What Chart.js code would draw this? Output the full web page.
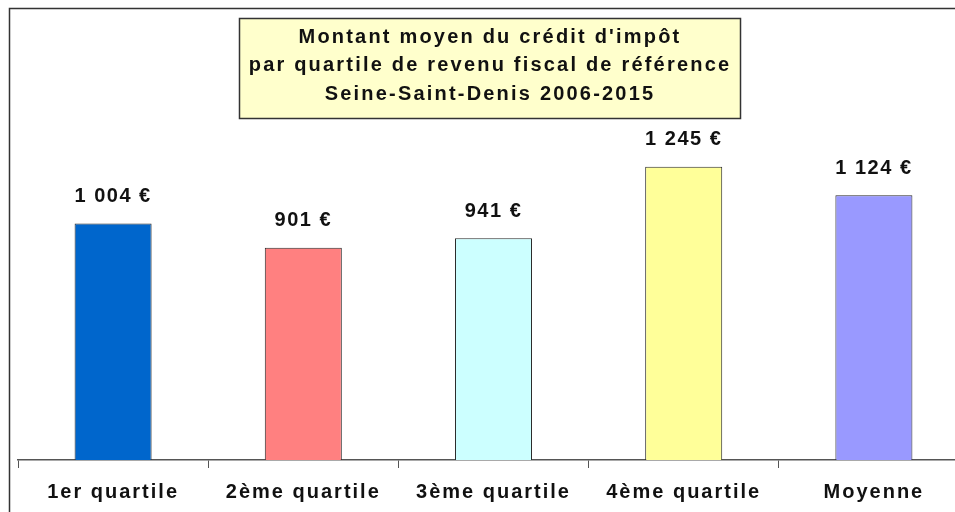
<!DOCTYPE html>
<html>
<head>
<meta charset="utf-8">
<script src="https://cdn.jsdelivr.net/npm/chart.js@4/dist/chart.umd.min.js"></script>
<style>
  html, body { margin: 0; padding: 0; background: #fff; overflow: hidden; }
  #wrap { width: 955px; height: 512px; overflow: hidden; }
</style>
</head>
<body>
<div id="wrap"><canvas id="barChart" width="975" height="523"></canvas></div>
<script>
const categories = ['1er quartile', '2ème quartile', '3ème quartile', '4ème quartile', 'Moyenne'];
const montants = [1004, 901, 941, 1245, 1124];
const valueLabels = ['1 004 €', '901 €', '941 €', '1 245 €', '1 124 €'];
const barColors = ['#0066CC', '#FF8080', '#CCFFFF', '#FFFF99', '#9999FF'];
const titleLines = [
    'Montant moyen du crédit d\'impôt',
    'par quartile de revenu fiscal de référence',
    'Seine-Saint-Denis 2006-2015'
];

const FONT = '"Liberation Sans", Arial, sans-serif';

// cadre, boite de titre et etiquettes de valeur
const decor = {
    id: 'decor',
    beforeDraw(chart) {
        const c = chart.ctx;
        c.letterSpacing = '2px';
        c.save();
        c.strokeStyle = '#333';
        c.lineWidth = 1.5;
        c.strokeRect(9.5, 8.5, 1100, 600);
        c.restore();
    },
    afterDatasetsDraw(chart) {
        const c = chart.ctx;
        c.save();
        c.letterSpacing = '1.5px';
        c.font = 'bold 20px ' + FONT;
        c.fillStyle = '#111';
        c.textAlign = 'center';
        c.textBaseline = 'middle';
        chart.getDatasetMeta(0).data.forEach((bar, i) => {
            c.fillText(valueLabels[i], bar.x, bar.y - 27);
        });

        // titre
        c.fillStyle = '#FFFFCC';
        c.fillRect(239, 18, 501, 100);
        c.strokeStyle = '#333';
        c.lineWidth = 1.5;
        c.strokeRect(239.5, 18.5, 501, 100);
        c.fillStyle = '#111';
        c.letterSpacing = '2.2px';
        titleLines.forEach((t, i) => {
            c.fillText(t, 490, 37 + i * 28.5);
        });
        c.restore();
    }
};

new Chart(document.getElementById('barChart').getContext('2d'), {
    type: 'bar',
    data: {
        labels: categories,
        datasets: [{
            data: montants,
            backgroundColor: barColors,
            borderColor: '#2a2a2a',
            borderWidth: 1,
            categoryPercentage: 1,
            barPercentage: 0.405
        }]
    },
    options: {
        responsive: false,
        animation: false,
        layout: { padding: { left: 18, right: 6, top: 36, bottom: 7 } },
        plugins: {
            legend: { display: false },
            title: { display: false },
            tooltip: { enabled: false }
        },
        scales: {
            x: {
                grid: {
                    offset: true,
                    drawOnChartArea: false,
                    tickLength: 8,
                    color: '#555'
                },
                border: { color: '#555', width: 1.5 },
                ticks: {
                    color: '#111',
                    padding: 12,
                    font: { family: FONT, size: 20, weight: 'bold' }
                }
            },
            y: {
                display: false,
                min: 0,
                max: 1800
            }
        }
    },
    plugins: [decor]
});
</script>
</body>
</html>
